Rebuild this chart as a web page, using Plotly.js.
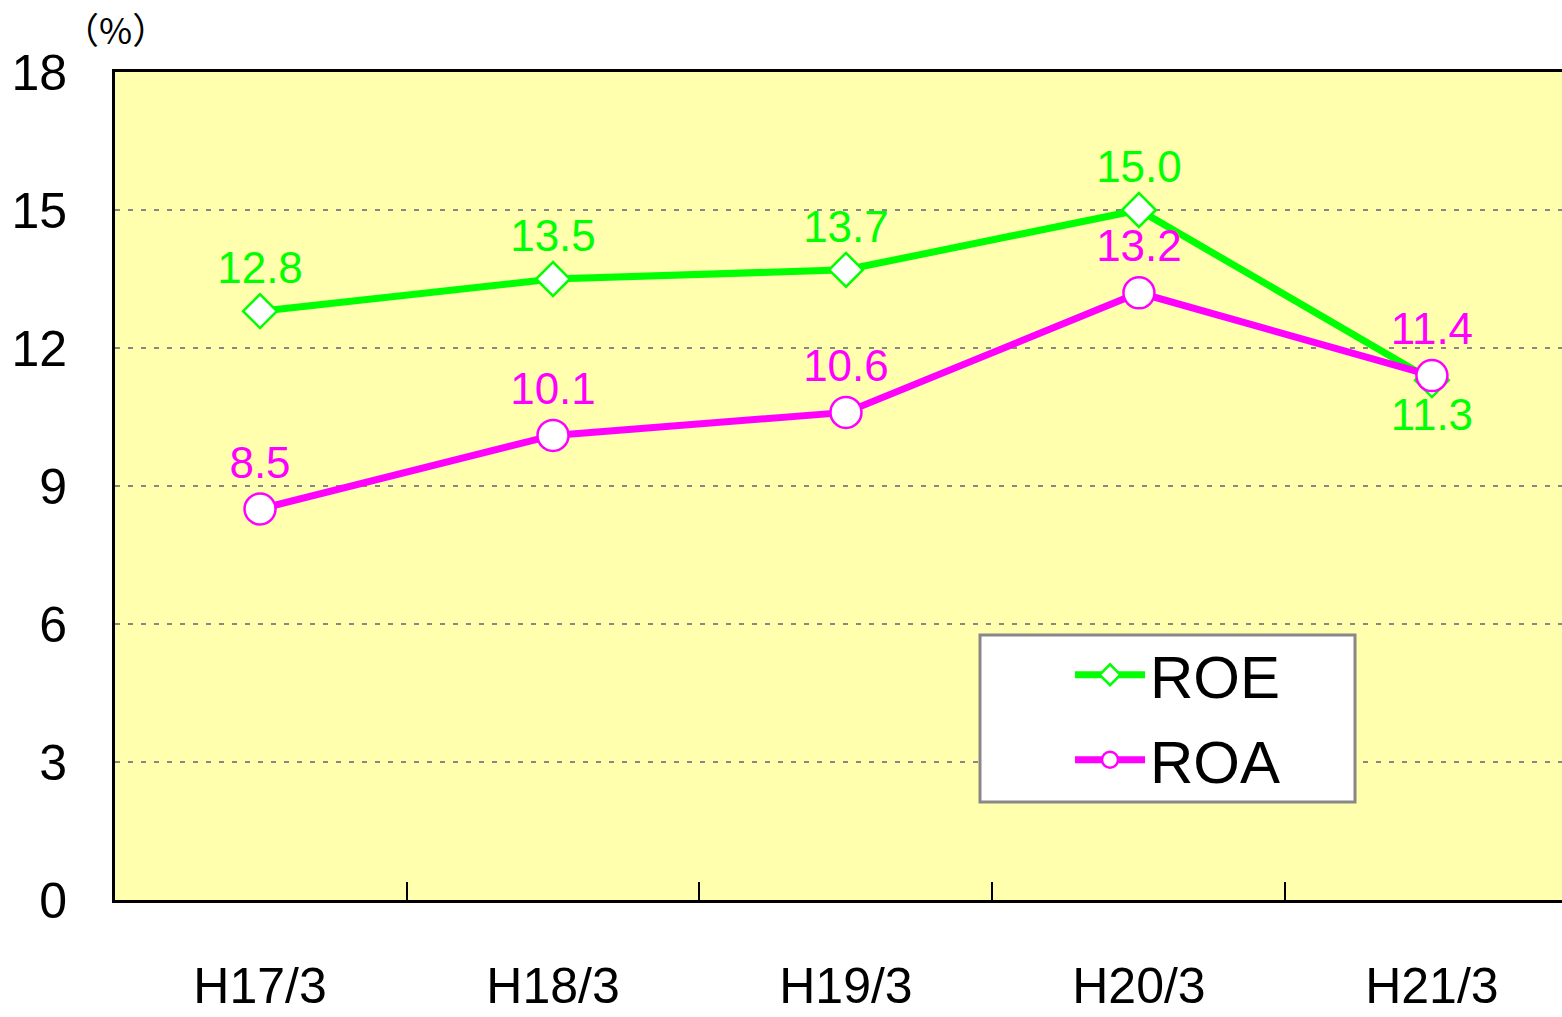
<!DOCTYPE html>
<html>
<head>
<meta charset="utf-8">
<script src="https://cdn.plot.ly/plotly-3.0.1.min.js"></script>
<style>html,body{margin:0;padding:0;background:#fff;}#chart{width:1562px;height:1017px;}</style>
</head>
<body>
<div id="chart"></div>
<script>
const categories = ["H17/3", "H18/3", "H19/3", "H20/3", "H21/3"];
const roe = [12.8, 13.5, 13.7, 15.0, 11.3];
const roa = [8.5, 10.1, 10.6, 13.2, 11.4];
const roeLabels = ["12.8", "13.5", "13.7", "15.0", "11.3"];
const roaLabels = ["8.5", "10.1", "10.6", "13.2", "11.4"];
const yTicks = [0, 3, 6, 9, 12, 15, 18];

const GREEN = "#00FF00";
const MAGENTA = "#FF00FF";
const FONT = "Liberation Sans, Arial, sans-serif";

const traces = [
  {
    type: "scatter", mode: "lines+markers+text", name: "ROE", legendgroup: "a",
    x: categories, y: roe, text: roeLabels,
    textposition: ["top center", "top center", "top center", "top center", "bottom center"],
    textfont: {family: FONT, size: 44, color: GREEN},
    line: {color: GREEN, width: 7},
    marker: {symbol: "diamond", size: 26, color: "#FFFFFF", line: {color: GREEN, width: 2.5}},
    cliponaxis: false
  },
  {
    type: "scatter", mode: "lines+markers+text", name: "ROA", legendgroup: "b",
    x: categories, y: roa, text: roaLabels,
    textposition: "top center",
    textfont: {family: FONT, size: 44, color: MAGENTA},
    line: {color: MAGENTA, width: 7},
    marker: {symbol: "circle", size: 31, color: "#FFFFFF", line: {color: MAGENTA, width: 2.5}},
    cliponaxis: false
  }
];

const layout = {
  width: 1562, height: 1017,
  margin: {l: 115, r: 0, t: 72, b: 117, pad: 0},
  paper_bgcolor: "#FFFFFF",
  plot_bgcolor: "#FFFFAE",
  font: {family: FONT, color: "#000"},
  showlegend: true,
  legend: {
    x: 0.66, y: 0.327, xanchor: "left", yanchor: "top",
    bgcolor: "rgba(0,0,0,0)", borderwidth: 0,
    font: {family: FONT, size: 60, color: "#000"},
    traceorder: "grouped", tracegroupgap: 4,
    itemwidth: 70
  },
  shapes: [
    {type: "rect", xref: "paper", yref: "paper", layer: "above",
     x0: (980 - 115) / 1447, x1: (1355 - 115) / 1447,
     y0: (900 - 802) / 828, y1: (900 - 635) / 828,
     fillcolor: "#FFFFFF", line: {color: "#888888", width: 3}}
  ],
  xaxis: {
    type: "category",
    range: [-0.495, 4.444],
    showline: true, linecolor: "#000", linewidth: 3, mirror: true,
    ticks: "inside", tickson: "boundaries", ticklen: 18, tickwidth: 2, tickcolor: "#000",
    showgrid: false, zeroline: false,
    tickfont: {family: FONT, size: 50, color: "#000"},
    ticklabelstandoff: 40
  },
  yaxis: {
    range: [0, 18],
    tickvals: yTicks, ticktext: yTicks.map(String),
    showline: true, linecolor: "#000", linewidth: 3,
    ticks: "", showgrid: true, gridcolor: "#888888", gridwidth: 2.5, griddash: "5px,8px",
    zeroline: false,
    tickfont: {family: FONT, size: 50, color: "#000"},
    ticklabelstandoff: 35
  },
  annotations: [
    {xref: "paper", yref: "paper", x: 0.0, y: 1.0, xanchor: "center", yanchor: "middle",
     yshift: 44, xshift: 0, showarrow: false, text: "（%）",
     font: {family: "Noto Sans CJK JP", size: 36, color: "#000"}}
  ]
};

Plotly.newPlot("chart", traces, layout, {displayModeBar: false, staticPlot: true});
</script>
</body>
</html>
